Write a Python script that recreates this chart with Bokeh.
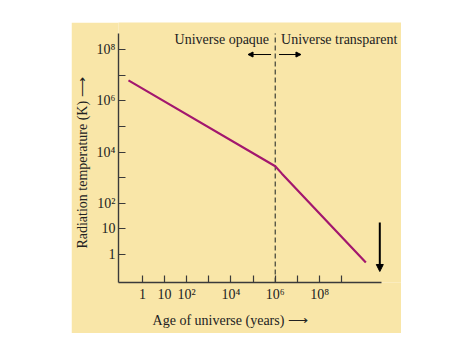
import math
from bokeh.plotting import figure
from bokeh.models import Range1d, FixedTicker, Label, Arrow, NormalHead, Spacer
from bokeh.layouts import row, column
from bokeh.embed import file_html
from bokeh.resources import INLINE

# ---- data ----
age_years = [10**-0.63, 1e6, 10**6.3, 10**10.09]
radiation_temp = [10**6.8, 10**3.45, 10**3.16, 10**-0.31]
decoupling_age = 1e6

x_ticks = [10.0**i for i in range(0, 10)]
x_tick_labels = {1.0: "1", 10.0: "10", 100.0: "10²", 1e4: "10⁴", 1e6: "10⁶", 1e8: "10⁸"}
y_ticks = [10.0**i for i in range(0, 9)]
y_tick_labels = {1.0: "1", 10.0: "10", 100.0: "10²", 1e4: "10⁴", 1e6: "10⁶", 1e8: "10⁸"}

x_axis_span = (10**-1.08, 10**10.8)
y_axis_span = (10**-1.09, 10**8.63)

PANEL = "#F9E6A8"
LINE = "#A3176E"
INK = "#222222"
FONT = "Liberation Serif"
NB = "\u00a0"

p = figure(width=330, height=311, x_axis_type="log", y_axis_type="log",
           x_range=Range1d(10**-1.08, 10**11.70), y_range=Range1d(10**-1.09, 10**9.06),
           output_backend="svg", toolbar_location=None,
           min_border_left=46, min_border_right=0, min_border_top=0, min_border_bottom=51)
p.background_fill_color = PANEL
p.border_fill_color = PANEL
p.outline_line_color = None
p.grid.visible = False

for ax, ticks, labels, bnds in ((p.xaxis[0], x_ticks, x_tick_labels, x_axis_span),
                                (p.yaxis[0], y_ticks, y_tick_labels, y_axis_span)):
    ax.ticker = FixedTicker(ticks=ticks, minor_ticks=[])
    ax.bounds = bnds
    ax.major_label_overrides = {t: labels.get(t, "") for t in ticks}
    ax.major_tick_in = 7
    ax.major_tick_out = 0
    ax.minor_tick_line_color = None
    ax.axis_line_color = "#3a3a3a"
    ax.axis_line_width = 1.4
    ax.major_tick_line_color = "#3a3a3a"
    ax.major_tick_line_width = 1.2
    ax.major_label_text_font = FONT
    ax.major_label_text_font_size = "14px"
    ax.major_label_text_color = INK
    ax.axis_label_text_font = FONT
    ax.axis_label_text_font_size = "14px"
    ax.axis_label_text_font_style = "normal"
    ax.axis_label_text_color = INK
p.xaxis.major_label_standoff = 4
p.yaxis.major_label_standoff = 3
p.xaxis.axis_label = "Age of universe (years) ⟶" + NB * 17
p.xaxis.axis_label_standoff = 8
p.yaxis.axis_label = "Radiation temperature (K) ⟶" + NB * 6
p.yaxis.axis_label_standoff = 4

p.segment(x0=[decoupling_age], y0=[y_axis_span[0]], x1=[decoupling_age], y1=[y_axis_span[1]],
          line_color="#5a5a48", line_dash="5 3", line_width=1.4)

p.line(age_years, radiation_temp, line_color=LINE, line_width=2.2)

# annotations
p.add_layout(Label(x=10**5.72, y=10**8.40, text="Universe opaque", text_align="right",
                   text_baseline="middle", text_font=FONT, text_font_size="14px", text_color=INK))
p.add_layout(Label(x=10**6.26, y=10**8.40, text="Universe transparent", text_align="left",
                   text_baseline="middle", text_font=FONT, text_font_size="14px", text_color=INK))

def arr(x0, y0, x1, y1, w=1.0, size=5):
    p.add_layout(Arrow(x_start=x0, y_start=y0, x_end=x1, y_end=y1, line_color="black",
                       line_width=w, end=NormalHead(size=size, fill_color="black",
                                                    line_color="black", line_width=1)))

arr(10**5.81, 10**7.81, 10**4.77, 10**7.81)
arr(10**6.17, 10**7.81, 10**7.16, 10**7.81)
arr(10**10.72, 10**1.25, 10**10.72, 10**-0.66, w=2, size=7)

layout = column(Spacer(height=22), row(Spacer(width=71), p))
open("out.html", "w").write(file_html(layout, INLINE))
